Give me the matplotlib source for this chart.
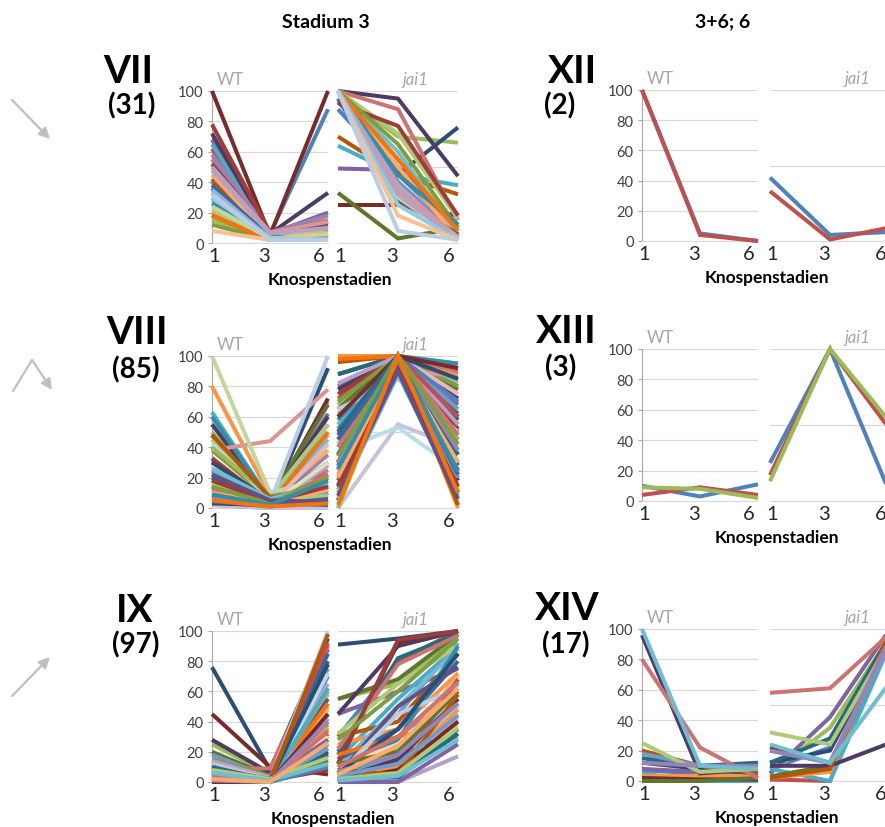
import numpy as np
import matplotlib.pyplot as plt

plt.rcParams['font.family'] = ['Lato', 'DejaVu Sans']

W, H = 885, 828

stages = ["1", "3", "6"]

# Excel 2010 style series colours (accents, then shades / tints)
PALETTE = [
    "#4F81BD", "#C0504D", "#9BBB59", "#8064A2", "#4BACC6", "#F79646",
    "#2C4D75", "#772C2A", "#5F7530", "#4D3B62", "#276A7C", "#B65708",
    "#729ACA", "#CD7371", "#AFC97A", "#9983B5", "#6FBDD1", "#F9AB6B",
    "#3A679C", "#9F3B38", "#7E9D40", "#664F83", "#358EA6", "#F3740B",
    "#95B3D7", "#D99694", "#C3D69B", "#B3A2C7", "#93CDDD", "#FAC090",
    "#B9CDE5", "#E6B9B8", "#D7E4BD", "#CCC1DA", "#B7DEE8", "#FCD5B5",
]

# ---- cluster VII (31 genes) ----
vii_wt = [
    [40, 6, 88], [62, 5, 8], [15, 2, 12], [68, 6, 20], [65, 4, 5], [20, 2, 6],
    [36, 3, 3], [100, 5, 100], [18, 2, 4], [72, 6, 33], [30, 3, 3], [42, 4, 5],
    [33, 3, 4], [55, 7, 15], [22, 3, 10], [58, 7, 18], [28, 3, 4], [45, 4, 7],
    [38, 4, 4], [78, 7, 14], [12, 2, 6], [52, 6, 12], [26, 3, 3], [18, 2, 5],
    [35, 3, 3], [50, 7, 14], [24, 3, 6], [48, 6, 10], [30, 3, 2], [8, 2, 2],
    [32, 2, 2],
]
vii_jai = [
    [88, 45, 8], [93, 50, 12], [100, 70, 66], [49, 48, 5], [64, 45, 38], [100, 55, 10],
    [100, 45, 76], [25, 25, 18], [33, 3, 10], [100, 95, 44], [100, 40, 5], [70, 45, 32],
    [100, 35, 3], [100, 88, 15], [100, 72, 16], [100, 40, 5], [100, 60, 5], [100, 50, 3],
    [95, 30, 4], [92, 77, 18], [100, 65, 10], [100, 28, 6], [100, 45, 12], [100, 55, 8],
    [100, 38, 2], [100, 35, 4], [100, 30, 3], [100, 32, 2], [100, 25, 2], [100, 18, 2],
    [100, 8, 2],
]

# ---- cluster VIII (85 genes) ----
viii_wt = [
    [2, 0, 0], [33, 3, 20], [50, 5, 70], [20, 4, 62], [63, 5, 5], [80, 8, 48],
    [8, 2, 92], [30, 3, 72], [40, 6, 68], [55, 5, 60], [48, 6, 4], [25, 10, 12],
    [15, 3, 55], [28, 4, 25], [45, 7, 55], [18, 3, 35], [12, 2, 45], [22, 5, 38],
    [5, 1, 10], [32, 4, 22], [38, 6, 15], [14, 3, 30], [60, 5, 3], [10, 2, 50],
    [20, 4, 8], [38, 44, 78], [100, 10, 20], [6, 2, 28], [12, 3, 6], [25, 5, 12],
    [16, 4, 100], [3, 1, 42], [10, 2, 30], [2, 0, 0], [42, 6, 18], [28, 4, 2],
    [7, 2, 15], [22, 3, 10], [40, 8, 14], [4, 1, 5], [18, 3, 3], [9, 2, 8],
    [30, 5, 6], [14, 6, 3], [8, 4, 12], [3, 2, 4], [20, 3, 2], [48, 7, 14],
    [24, 4, 10], [12, 3, 22], [16, 5, 8], [6, 2, 4], [26, 6, 16], [10, 3, 12],
    [4, 2, 6], [18, 4, 14], [14, 3, 20], [22, 5, 4], [9, 2, 18], [5, 1, 3],
]
viii_jai = [
    [45, 100, 60], [72, 100, 55], [68, 100, 80], [80, 100, 68], [55, 100, 95], [100, 100, 88],
    [88, 100, 58], [30, 100, 50], [65, 100, 78], [78, 100, 72], [88, 100, 62], [96, 100, 92],
    [50, 100, 65], [60, 100, 90], [42, 100, 82], [25, 100, 70], [55, 100, 84], [20, 100, 48],
    [35, 100, 28], [75, 100, 52], [70, 100, 80], [48, 100, 60], [58, 100, 95], [98, 100, 45],
    [10, 100, 35], [62, 92, 86], [20, 100, 20], [82, 100, 55], [5, 100, 15], [45, 90, 10],
    [65, 85, 50], [40, 100, 75], [15, 100, 40], [0, 55, 40], [38, 53, 25], [8, 100, 5],
    [52, 100, 70], [18, 100, 60], [0, 100, 45], [30, 95, 25], [12, 100, 30], [22, 100, 0],
    [35, 100, 85], [60, 100, 92], [28, 100, 10], [15, 90, 18], [50, 100, 35], [5, 100, 2],
    [25, 92, 20], [40, 100, 48], [10, 95, 12], [30, 100, 38], [6, 88, 8], [20, 96, 30],
    [45, 100, 22], [14, 92, 14], [34, 100, 42], [8, 90, 6], [26, 98, 24], [2, 100, 10],
]

# ---- cluster IX (97 genes) ----
ix_wt = [
    [13, 2, 70], [8, 3, 88], [25, 5, 60], [10, 2, 45], [5, 0, 62], [3, 0, 50],
    [76, 8, 95], [45, 10, 5], [20, 4, 40], [28, 6, 30], [2, 0, 80], [6, 1, 32],
    [18, 3, 75], [9, 9, 90], [4, 1, 58], [12, 3, 42], [2, 0, 22], [3, 0, 48],
    [8, 2, 85], [7, 1, 8], [15, 4, 38], [11, 3, 55], [1, 0, 25], [2, 1, 52],
    [5, 2, 18], [10, 2, 28], [3, 1, 35], [14, 3, 65], [4, 1, 20], [2, 0, 15],
    [6, 2, 100], [1, 0, 12], [3, 1, 26], [12, 2, 44], [2, 0, 72], [4, 1, 30],
    [0, 0, 10], [9, 2, 92], [5, 1, 60], [7, 2, 28], [3, 0, 62], [1, 0, 36],
    [6, 1, 78], [0, 0, 45], [4, 1, 14], [2, 0, 20], [10, 1, 18], [2, 0, 98],
    [5, 1, 22], [3, 0, 34], [8, 2, 16], [1, 0, 40], [6, 1, 12], [2, 0, 26],
]
ix_jai = [
    [30, 80, 100], [20, 80, 100], [55, 65, 95], [45, 60, 75], [15, 55, 90], [25, 35, 72],
    [91, 95, 100], [12, 92, 100], [55, 68, 98], [45, 90, 100], [18, 82, 98], [30, 40, 85],
    [10, 45, 92], [22, 78, 97], [32, 65, 90], [0, 30, 60], [10, 50, 88], [5, 20, 70],
    [15, 35, 80], [12, 94, 100], [28, 60, 95], [5, 50, 76], [8, 28, 90], [18, 30, 40],
    [5, 15, 62], [10, 12, 55], [3, 10, 50], [0, 0, 17], [8, 5, 65], [12, 20, 38],
    [5, 45, 62], [8, 15, 42], [3, 20, 30], [2, 25, 45], [5, 2, 50], [10, 25, 58],
    [0, 5, 35], [2, 8, 68], [6, 22, 30], [0, 0, 25], [4, 18, 52], [2, 10, 48],
    [6, 35, 85], [1, 8, 40], [12, 20, 60], [2, 15, 55], [3, 3, 32], [8, 5, 58],
    [4, 12, 44], [10, 30, 66], [2, 6, 36], [7, 18, 52], [1, 4, 28], [5, 24, 62],
]

# ---- cluster XII (2 genes) ----
xii_wt = [[100, 5, 0], [100, 4, 0]]
xii_jai = [[42, 4, 6], [33, 1, 9]]

# ---- cluster XIII (3 genes) ----
xiii_wt = [[10, 3, 11], [4, 9, 4], [9, 8, 2]]
xiii_jai = [[25, 100, 5], [17, 100, 47], [13, 100, 52]]

# ---- cluster XIV (17 genes) ----
xiv_wt = [
    [7, 5, 5], [0, 0, 0], [0, 2, 3], [8, 6, 6], [5, 0, 0], [3, 3, 3],
    [12, 8, 5], [2, 1, 1], [0, 0, 2], [96, 5, 8], [15, 10, 12], [20, 10, 5],
    [18, 10, 8], [80, 22, 2], [25, 6, 8], [12, 10, 10], [100, 10, 8],
]
xiv_jai = [
    [8, 22, 95], [1, 0, 97], [5, 35, 95], [5, 42, 100], [8, 0, 90], [2, 6, 97],
    [12, 20, 95], [22, 12, 93], [3, 10, 92], [10, 10, 25], [12, 28, 96], [2, 8, 98],
    [20, 12, 90], [58, 61, 97], [32, 24, 92], [20, 12, 94], [24, 12, 65],
]

panels = [
    # name, count, wt, jai, layout (pixel boxes)
    dict(name="VII", count="(31)", wt=vii_wt, jai=vii_jai,
         wt_x=(212, 328), jai_x=(338, 458), y=(92, 244), name_x=128, cnt_x=132,
         name_y=72, cnt_y=106, xlab_x=330, jai_lab=428),
    dict(name="VIII", count="(85)", wt=viii_wt, jai=viii_jai,
         wt_x=(212, 328), jai_x=(338, 458), y=(357, 509), name_x=137, cnt_x=136,
         name_y=333, cnt_y=370, xlab_x=330, jai_lab=428),
    dict(name="IX", count="(97)", wt=ix_wt, jai=ix_jai,
         wt_x=(212, 328), jai_x=(338, 458), y=(632, 783), name_x=135, cnt_x=136,
         name_y=610, cnt_y=645, xlab_x=333, jai_lab=428),
    dict(name="XII", count="(2)", wt=xii_wt, jai=xii_jai,
         wt_x=(642, 758), jai_x=(770, 890), y=(91, 242), name_x=573, cnt_x=560,
         name_y=72, cnt_y=106, xlab_x=767, jai_lab=870),
    dict(name="XIII", count="(3)", wt=xiii_wt, jai=xiii_jai,
         wt_x=(642, 758), jai_x=(770, 890), y=(350, 502), name_x=566, cnt_x=561,
         name_y=332, cnt_y=368, xlab_x=777, jai_lab=870),
    dict(name="XIV", count="(17)", wt=xiv_wt, jai=xiv_jai,
         wt_x=(642, 758), jai_x=(770, 890), y=(630, 782), name_x=567, cnt_x=566,
         name_y=608, cnt_y=645, xlab_x=777, jai_lab=870),
]

GRID = "#D9D9D9"
AXIS = "#A6A6A6"
LABEL_GREY = "#A6A6A6"

fig = plt.figure(figsize=(W / 100, H / 100), dpi=100)


def fx(x):
    return x / W


def fy(y):
    return 1 - y / H


def add_ax(xr, yr):
    return fig.add_axes([fx(xr[0]), fy(yr[1]), (xr[1] - xr[0]) / W, (yr[1] - yr[0]) / H])


def draw(ax, rows, yticks):
    xs = np.arange(len(stages))
    for i, r in enumerate(rows):
        ax.plot(xs, r, color=PALETTE[i % len(PALETTE)], lw=2.9,
                solid_capstyle="butt", solid_joinstyle="miter", clip_on=False, zorder=3)
    ax.set_xlim(0, 2)
    ax.set_ylim(0, 100)
    ax.set_xticks([0.03, 0.9, 1.84])
    ax.set_xticklabels(stages, fontsize=14.5, color="#262626")
    ax.tick_params(axis="x", length=0, pad=3)
    ax.set_yticks(yticks)
    ax.grid(axis="y", color=GRID, lw=0.9)
    ax.set_axisbelow(True)
    for s in ("top", "right"):
        ax.spines[s].set_visible(False)
    ax.spines["bottom"].set_color(GRID)
    ax.set_facecolor("none")


for p in panels:
    wt = add_ax(p["wt_x"], p["y"])
    draw(wt, p["wt"], [0, 20, 40, 60, 80, 100])
    wt.spines["left"].set_color(AXIS)
    wt.tick_params(axis="y", length=3, color=AXIS, labelsize=10.5, labelcolor="#404040", pad=3)

    jai = add_ax(p["jai_x"], p["y"])
    draw(jai, p["jai"], [0, 50, 100])
    jai.spines["left"].set_visible(False)
    jai.tick_params(axis="y", length=0, labelleft=False)

    top, bot = p["y"]
    fig.text(fx(p["wt_x"][0] + 5), fy(top - 12), "WT", fontsize=12, color=LABEL_GREY,
             ha="left", va="center")
    fig.text(fx(p["jai_lab"]), fy(top - 12), "jai1", fontsize=12, color=LABEL_GREY,
             style="italic", ha="right", va="center")
    fig.text(fx(p["xlab_x"]), fy(bot + 36), "Knospenstadien", fontsize=12.5,
             fontweight="bold", ha="center", va="center")
    fig.text(fx(p["name_x"]), fy(p["name_y"]), p["name"], fontsize=28,
             fontweight="bold", ha="center", va="center")
    fig.text(fx(p["cnt_x"]), fy(p["cnt_y"]), p["count"], fontsize=20,
             fontweight="bold", ha="center", va="center")

fig.text(fx(326), fy(22), "Stadium 3", fontsize=14, fontweight="bold", ha="center", va="center")
fig.text(fx(723), fy(22), "3+6; 6", fontsize=14, fontweight="bold", ha="center", va="center")

# trend arrows at the left margin (pixel coordinates)
ov = fig.add_axes([0, 0, 1, 1], zorder=-1)
ov.set_xlim(0, W)
ov.set_ylim(H, 0)
ov.axis("off")
arrow_kw = dict(arrowstyle="-|>", color="#BFBFBF", lw=1.6, mutation_scale=16,
                shrinkA=0, shrinkB=0)
ov.annotate("", xy=(50, 140), xytext=(12, 101), arrowprops=arrow_kw)
ov.plot([13, 32], [392, 361], color="#BFBFBF", lw=1.6, solid_capstyle="round")
ov.annotate("", xy=(52, 391), xytext=(32, 361), arrowprops=arrow_kw)
ov.annotate("", xy=(50, 658), xytext=(12, 697), arrowprops=arrow_kw)

fig.savefig("out.png", dpi=100)
